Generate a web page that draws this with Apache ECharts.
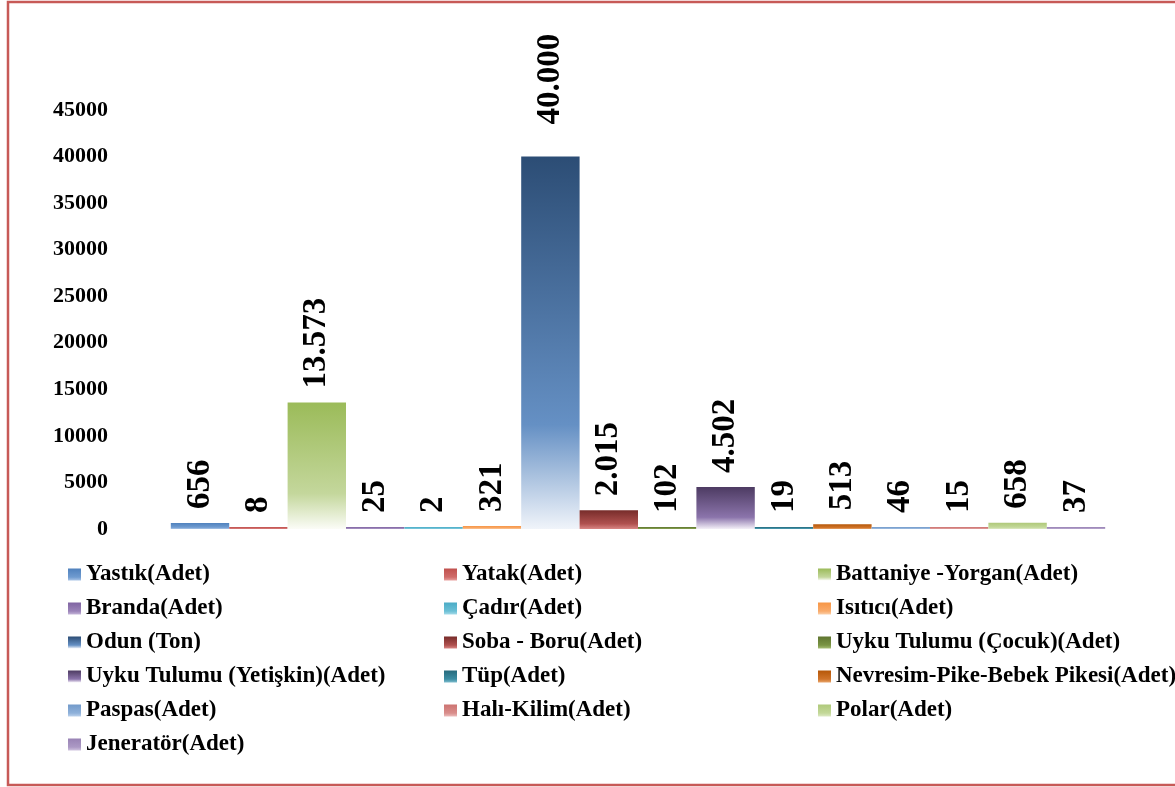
<!DOCTYPE html>
<html>
<head>
<meta charset="utf-8">
<script src="https://cdn.jsdelivr.net/npm/echarts@6/dist/echarts.min.js"></script>
<style>
  html, body {margin: 0; padding: 0; background: #ffffff;}
  #chart {width: 1175px; height: 787px;}
</style>
</head>
<body>
<div id="chart"></div>
<script>
const itemNames = [
  "Yastık(Adet)", "Yatak(Adet)", "Battaniye -Yorgan(Adet)",
  "Branda(Adet)", "Çadır(Adet)", "Isıtıcı(Adet)",
  "Odun (Ton)", "Soba - Boru(Adet)", "Uyku Tulumu (Çocuk)(Adet)",
  "Uyku Tulumu (Yetişkin)(Adet)", "Tüp(Adet)", "Nevresim-Pike-Bebek Pikesi(Adet)",
  "Paspas(Adet)", "Halı-Kilim(Adet)", "Polar(Adet)",
  "Jeneratör(Adet)",
];
const itemValues = [656, 8, 13573, 25, 2, 321, 40000, 2015, 102, 4502, 19, 513, 46, 15, 658, 37];
const yMin = 0;
const yMax = 45000;
const yStep = 5000;

// top / middle / bottom colours of each bar's gradient
const palette = [
  ["#4f81bd", "#6f9bd0", "#a9c4e6"],
  ["#c0504d", "#d06c6a", "#e8a09e"],
  ["#9bbb59", "#c4d79c", "#fbfcf7"],
  ["#8064a2", "#9b84b9", "#c4b5d8"],
  ["#4bacc6", "#6cc0d6", "#a5dbe9"],
  ["#f79646", "#f9ab6b", "#fbd0aa"],
  ["#2c4d75", "#6590c4", "#f0f4fa"],
  ["#772c2a", "#b0514f", "#d98684"],
  ["#5f7530", "#7a9444", "#a6bd74"],
  ["#4d3b62", "#8b74ab", "#f4f0f8"],
  ["#276a7c", "#3c8da3", "#7dbccd"],
  ["#b65708", "#d0742a", "#e8a46a"],
  ["#729aca", "#8fb1da", "#bcd2ec"],
  ["#cd7371", "#d98e8c", "#ecbdbc"],
  ["#afc97a", "#c3d899", "#dde9c4"],
  ["#9983b5", "#ac99c5", "#cfc3de"],
];

const serif = "'Liberation Serif', 'DejaVu Serif', serif";

function thousands(v) {
  return String(v).replace(/\B(?=(\d{3})+(?!\d))/g, ".");
}

const chart = echarts.init(document.getElementById("chart"));

const series = itemNames.map((name, i) => {
  const c = palette[i];
  return {
    name: name,
    type: "bar",
    data: [itemValues[i]],
    barGap: "0%",
    barCategoryGap: "10.5%",
    barMinHeight: 2,
    itemStyle: {
      color: new echarts.graphic.LinearGradient(0, 0, 0, 1, [
        {offset: 0, color: c[0]},
        {offset: 0.72, color: c[1]},
        {offset: 1, color: c[2]},
      ]),
    },
    label: {
      show: true,
      position: "top",
      rotate: 90,
      align: "left",
      verticalAlign: "middle",
      // the tall Odun label sits further above its bar in the original
      distance: i === 6 ? 32 : 14,
      formatter: (p) => thousands(p.value),
      fontFamily: serif,
      fontWeight: "bold",
      fontSize: 33,
      color: "#000000",
    },
  };
});

// legend is laid out as three columns, row-major like the original
const legendLefts = [68, 444, 818];
const legends = legendLefts.map((left, col) => ({
  orient: "vertical",
  left: left,
  top: 563,
  padding: 0,
  icon: "rect",
  itemWidth: 13,
  itemHeight: 12,
  itemGap: 11,
  selectedMode: false,
  textStyle: {fontFamily: serif, fontWeight: "bold", fontSize: 23, lineHeight: 23, color: "#000000"},
  data: itemNames.filter((n, i) => i % 3 === col),
}));

const option = {
  animation: false,
  backgroundColor: "#ffffff",
  textStyle: {fontFamily: serif},
  grid: {left: 116, top: 110, width: 1044, height: 419},
  legend: legends,
  xAxis: {
    type: "category",
    data: [""],
    axisLine: {show: false},
    axisTick: {show: false},
    axisLabel: {show: false},
  },
  yAxis: {
    type: "value",
    min: yMin,
    max: yMax,
    interval: yStep,
    splitLine: {show: false},
    axisLine: {show: false},
    axisTick: {show: false},
    axisLabel: {
      margin: 8,
      formatter: (v) => String(v),
      fontFamily: serif,
      fontWeight: "bold",
      fontSize: 22,
      color: "#000000",
    },
  },
  graphic: [
    {
      type: "rect",
      shape: {x: 8, y: 2, width: 1200, height: 783},
      style: {fill: null, stroke: "#c75a57", lineWidth: 2.5},
      silent: true,
    },
  ],
  series: series,
};

chart.setOption(option);
</script>
</body>
</html>
